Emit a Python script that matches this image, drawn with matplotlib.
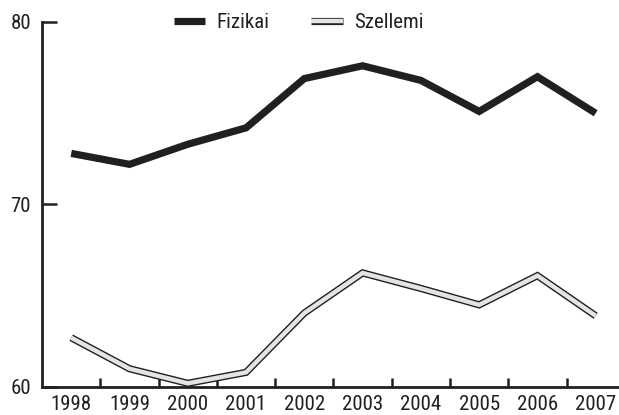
import matplotlib
matplotlib.use("Agg")
import matplotlib.pyplot as plt
import matplotlib.patheffects as pe
from matplotlib import font_manager

years = ["1998", "1999", "2000", "2001", "2002", "2003", "2004", "2005", "2006", "2007"]
fizikai = [72.8, 72.2, 73.3, 74.2, 76.9, 77.6, 76.8, 75.1, 77.0, 75.0]
szellemi = [62.7, 61.0, 60.2, 60.8, 64.05, 66.25, 65.4, 64.5, 66.1, 63.9]

names = {f.name for f in font_manager.fontManager.ttflist}
font = "DejaVu Sans"
for cand in ["Roboto Condensed", "Open Sans Condensed", "Liberation Sans Narrow"]:
    if cand in names:
        font = cand
        break
plt.rcParams["font.family"] = [font, "DejaVu Sans"]
plt.rcParams["font.stretch"] = "condensed"

ink = "#231f20"

fig = plt.figure(figsize=(6.19, 4.15), dpi=100)
ax = fig.add_axes([0.068, 0.0675, 0.932, 0.8795])

x = list(range(len(years)))
ax.plot(x, fizikai, color=ink, lw=5.2, solid_joinstyle="miter",
        solid_capstyle="butt", label="Fizikai", clip_on=False)
ax.plot(x, szellemi, color="#e4e4e4", lw=3.2, solid_joinstyle="miter",
        solid_capstyle="butt", label="Szellemi", clip_on=False,
        path_effects=[pe.Stroke(linewidth=5.2, foreground=ink), pe.Normal()])

ax.set_xlim(-0.5, 9.4)
ax.set_ylim(60, 80)

for s in ["top", "right"]:
    ax.spines[s].set_visible(False)
for s in ["left", "bottom"]:
    ax.spines[s].set_color(ink)
    ax.spines[s].set_linewidth(2)

ax.set_xticks(x)
ax.set_xticklabels(years)
ax.set_xticks([i + 0.5 for i in x[:-1]], minor=True)
ax.tick_params(axis="x", which="major", length=0, pad=6, labelsize=15, labelcolor=ink)
ax.tick_params(axis="x", which="minor", direction="in", length=6.5, width=1.8, color=ink)

ax.set_yticks([60, 70, 80])
ax.tick_params(axis="y", direction="in", length=11, width=1.8, color=ink,
               pad=8, labelsize=15, labelcolor=ink)

ax.legend(loc="upper center", bbox_to_anchor=(0.445, 1.075), ncol=2, frameon=False,
          fontsize=15, handlelength=1.5, columnspacing=2.0, handletextpad=0.55,
          labelcolor=ink)

fig.savefig("out.png", dpi=100)
